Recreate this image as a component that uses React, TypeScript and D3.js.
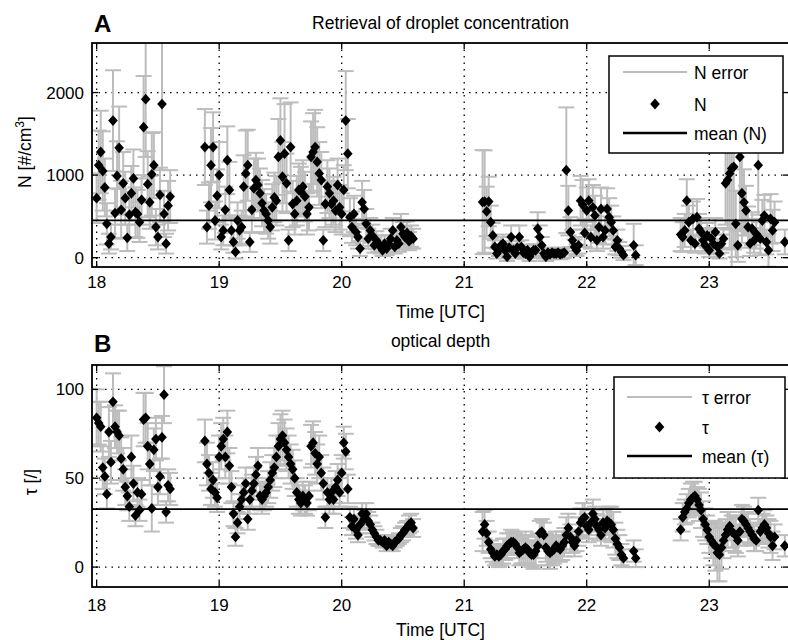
import React from 'react';
import * as d3 from 'd3';

// Time of each retrieval, minutes after 18:00 UTC
const minutes = [
  0,1,2,3,4,5,6,7,8,9,10,11,12,13,14,15,16,17,18,19,20,21,22,23,24,25,26,27,28,29,30,31,32,33,34,35,36,
  53,54,55,56,57,58,59,60,61,62,63,64,65,66,67,68,69,70,71,72,73,74,75,76,77,78,79,80,81,82,
  83,84,85,86,87,88,89,90,91,92,93,94,95,96,97,98,99,100,101,102,103,104,105,106,107,108,109,110,111,112,
  113,114,115,116,117,118,119,120,121,122,123,124,125,126,127,128,129,130,131,132,133,134,135,136,137,138,139,140,141,142,
  143,144,145,146,147,148,149,150,151,152,153,154,155,
  189,190,191,192,193,194,195,196,197,198,199,200,201,202,203,204,205,206,207,208,209,210,211,212,213,214,215,216,217,218,
  219,220,221,222,223,224,225,226,227,228,229,230,231,232,233,234,235,236,237,238,239,240,241,242,243,244,245,246,247,248,
  249,250,251,252,253,254,255,256,257,258,263,264,
  286,287,288,289,290,291,292,293,294,295,296,297,298,299,300,301,302,303,304,305,306,307,308,309,310,311,312,313,314,315,
  316,317,318,319,320,321,322,323,324,325,326,327,328,329,330,331,332,337,
];

// Droplet concentration N [#/cm3]
const nValues = [
  720,1120,1280,1050,850,410,170,250,1660,540,
  990,1330,580,900,720,240,520,780,960,550,
  530,430,700,1580,1920,890,670,1010,1120,370,
  250,760,1860,530,170,630,740,
  1340,370,630,1120,1340,450,750,1000,250,330,
  580,1180,820,330,190,70,450,330,370,860,
  1020,1120,190,580,840,940,880,780,660,570,
  530,450,370,610,730,690,1220,1420,980,1260,
  900,210,1340,650,530,690,820,800,860,740,
  530,610,1220,1280,1340,1160,1020,940,210,650,
  860,780,650,690,570,880,610,530,820,1660,
  1260,490,370,530,310,250,110,670,590,410,
  230,330,270,150,210,170,130,90,170,110,
  170,230,330,130,210,170,370,290,250,300,
  200,260,230,
  673,680,560,680,430,270,130,50,90,150,
  170,90,10,120,250,90,50,120,250,130,
  60,50,90,10,60,90,90,350,250,150,
  50,10,60,40,60,50,50,60,40,50,
  60,1060,570,310,210,130,90,150,690,640,
  300,570,690,250,610,510,210,370,590,250,
  330,590,490,430,330,130,210,110,70,30,
  150,30,
  280,250,330,690,430,210,470,170,490,350,
  310,210,150,270,90,230,170,310,130,50,
  170,230,900,940,1020,1080,1100,410,150,1220,
  780,670,570,370,170,350,210,290,1120,230,
  450,510,190,90,470,330,430,
  190,
];

const nErrors = [
  300,420,500,480,350,250,120,150,610,300,
  420,500,350,380,320,160,280,330,350,300,
  290,240,300,620,700,400,320,500,400,220,
  150,330,800,280,120,300,320,
  460,200,280,450,420,230,320,400,150,180,
  280,410,340,180,130,80,220,180,200,380,
  520,430,120,280,360,330,320,300,280,260,
  240,220,200,280,300,300,460,510,420,600,
  360,130,540,280,250,300,320,300,320,300,
  250,280,430,470,450,420,380,340,130,280,
  320,300,280,290,260,320,270,250,300,600,
  420,230,190,220,160,140,90,260,230,180,
  120,150,130,90,110,100,80,70,100,80,
  100,120,150,80,110,100,160,140,130,140,
  110,130,120,
  630,620,300,300,200,150,80,60,70,100,
  110,70,50,80,140,70,60,80,140,80,
  60,60,70,50,60,70,70,200,140,100,
  60,50,60,60,60,60,60,60,60,60,
  60,760,300,180,130,90,70,100,300,300,
  170,280,260,140,270,240,130,190,260,140,
  170,250,230,200,170,90,130,80,70,60,
  260,120,
  200,180,200,260,200,130,210,110,220,180,
  170,130,100,150,80,130,110,170,90,60,
  110,130,500,600,900,1200,1000,400,200,900,
  600,400,300,250,150,200,150,180,600,200,
  250,250,150,200,300,250,250,
  150,
];

// Optical depth tau
const tauValues = [
  84,81,79,56,51,41,76,59,93,79,
  76,74,61,55,45,40,34,62,47,29,
  42,32,41,83,84,68,58,33,66,72,
  45,51,73,97,31,46,44,
  71,58,53,44,49,42,39,62,68,72,
  62,76,57,45,30,17,25,34,38,42,
  47,27,38,43,47,52,57,40,38,40,
  42,45,49,53,56,62,68,72,74,70,
  66,62,58,55,50,42,38,36,40,38,
  36,40,68,70,64,58,62,53,47,28,
  42,38,42,38,45,49,42,53,70,65,
  44,28,23,27,21,18,24,30,27,30,
  26,24,21,19,17,15,15,14,15,12,
  14,13,12,14,15,16,18,19,21,22,
  24,25,22,
  20,24,19,14,10,8,6,7,6,7,
  9,10,12,13,14,14,13,11,8,9,
  10,11,10,8,7,7,9,12,19,20,
  18,11,9,8,9,10,12,11,10,12,
  14,18,22,17,14,12,15,20,25,27,
  28,23,21,25,30,27,23,21,18,25,
  22,26,25,24,21,16,13,11,7,5,
  9,5,
  21,28,31,33,36,38,39,40,38,35,
  32,27,24,21,17,15,13,12,8,7,
  11,15,18,21,23,20,19,18,15,20,
  27,26,24,22,20,18,16,15,32,20,
  22,24,22,19,17,12,17,
  12,
];

const tauErrors = [
  16,12,14,12,10,8,14,12,16,12,
  12,14,12,12,10,8,8,12,10,6,
  8,6,8,15,14,13,12,13,12,12,
  10,10,12,16,6,9,9,
  12,12,10,9,10,8,8,12,13,12,
  12,12,10,9,7,5,6,7,8,8,
  9,6,8,9,9,10,10,8,8,8,
  8,9,10,10,11,12,13,14,14,13,
  12,12,11,11,10,8,8,7,8,8,
  7,8,12,12,12,11,12,10,9,6,
  8,8,8,8,9,9,8,10,9,10,
  8,6,5,6,5,4,5,6,5,6,
  5,5,4,4,4,3,3,3,3,3,
  3,3,3,3,3,3,4,4,4,4,
  5,5,5,
  11,8,7,6,5,5,5,5,6,6,
  7,6,7,6,7,6,6,6,7,7,
  8,9,8,7,7,8,8,7,7,7,
  7,8,8,9,8,8,8,7,7,8,
  8,10,8,7,6,6,6,8,8,9,
  8,7,7,7,8,7,7,6,6,7,
  7,7,9,10,10,9,8,7,6,5,
  6,5,
  6,8,7,8,8,9,9,8,7,9,
  10,10,9,8,9,10,12,14,16,15,
  12,10,9,10,8,9,10,10,9,8,
  8,8,7,8,7,6,7,6,7,7,
  8,8,7,8,9,8,7,
  6,
];

const meanN = 452;
const meanTau = 32.6;

const xTicks = [18, 19, 20, 21, 22, 23];
const nTicks = [0, 1000, 2000];
const tauTicks = [0, 50, 100];

const FONT = '"Liberation Sans", Arial, Helvetica, sans-serif';
const GREY = '#bdbdbd';

const xLeft = 92;
const xRight = 789;
const x = d3.scaleLinear().domain([17.962, 23.651]).range([xLeft, xRight]);
const hours = minutes.map((m) => 18 + m / 60);

const diamond = (cx: number, cy: number) =>
  `M${cx},${cy - 5.4}L${cx + 4.8},${cy}L${cx},${cy + 5.4}L${cx - 4.8},${cy}Z`;

type PanelProps = {
  id: string;
  letter: string;
  title: string;
  top: number;
  bottom: number;
  yDomain: [number, number];
  yTicks: number[];
  values: number[];
  errors: number[];
  mean: number;
  tickBaseline: number;
  xLabelBaseline: number;
  titleBaseline: number;
  letterBaseline: number;
  yLabel: React.ReactNode;
  legend: { x: number; y: number; w: number; h: number; lineX0: number; lineX1: number; textX: number; rows: number[]; names: string[] };
};

function Panel(p: PanelProps) {
  const y = d3.scaleLinear().domain(p.yDomain).range([p.bottom, p.top]);
  const n = Math.min(hours.length, p.values.length, p.errors.length);
  const idx = d3.range(n);
  const cap = 8;
  const mid = (xLeft + xRight) / 2;
  const L = p.legend;
  return (
    <g>
      <defs>
        <clipPath id={`clip${p.id}`}>
          <rect x={xLeft} y={p.top} width={xRight - xLeft} height={p.bottom - p.top} />
        </clipPath>
      </defs>
      <rect x={xLeft} y={p.top} width={xRight - xLeft} height={p.bottom - p.top} fill="#fff" />
      {/* grid */}
      {xTicks.map((t) => (
        <line key={`gx${t}`} x1={x(t)} x2={x(t)} y1={p.top} y2={p.bottom} stroke="#000" strokeWidth={1.3} strokeDasharray="1.5 5" />
      ))}
      {p.yTicks.map((t) => (
        <line key={`gy${t}`} x1={xLeft} x2={xRight} y1={y(t)} y2={y(t)} stroke="#000" strokeWidth={1.3} strokeDasharray="1.5 5" />
      ))}
      <g clipPath={`url(#clip${p.id})`}>
        {idx.map((i) => {
          const cx = x(hours[i]);
          const lo = y(p.values[i] - p.errors[i]);
          const hi = y(p.values[i] + p.errors[i]);
          return (
            <g key={`e${i}`} stroke={GREY} strokeWidth={2}>
              <line x1={cx} x2={cx} y1={lo} y2={hi} />
              <line x1={cx - cap} x2={cx + cap} y1={lo} y2={lo} />
              <line x1={cx - cap} x2={cx + cap} y1={hi} y2={hi} />
            </g>
          );
        })}
        {idx.map((i) => (
          <path key={`m${i}`} d={diamond(x(hours[i]), y(p.values[i]))} fill="#000" />
        ))}
        <line x1={xLeft} x2={xRight} y1={y(p.mean)} y2={y(p.mean)} stroke="#000" strokeWidth={1.8} />
      </g>
      {/* ticks */}
      {xTicks.map((t) => (
        <g key={`tx${t}`} stroke="#000" strokeWidth={1.3}>
          <line x1={x(t)} x2={x(t)} y1={p.bottom} y2={p.bottom - 6} />
          <line x1={x(t)} x2={x(t)} y1={p.top} y2={p.top + 6} />
        </g>
      ))}
      {p.yTicks.map((t) => (
        <g key={`ty${t}`} stroke="#000" strokeWidth={1.3}>
          <line x1={xLeft} x2={xLeft + 6} y1={y(t)} y2={y(t)} />
          <line x1={xRight} x2={xRight - 6} y1={y(t)} y2={y(t)} />
        </g>
      ))}
      <rect x={xLeft} y={p.top} width={xRight - xLeft} height={p.bottom - p.top} fill="none" stroke="#000" strokeWidth={1.8} />
      {/* tick labels */}
      {xTicks.map((t) => (
        <text key={`lx${t}`} x={x(t)} y={p.tickBaseline} textAnchor="middle" fontFamily={FONT} fontSize={17}>
          {t}
        </text>
      ))}
      {p.yTicks.map((t) => (
        <text key={`ly${t}`} x={84} y={y(t) + 6} textAnchor="end" fontFamily={FONT} fontSize={17}>
          {t}
        </text>
      ))}
      <text x={mid} y={p.xLabelBaseline} textAnchor="middle" fontFamily={FONT} fontSize={17.5}>
        Time [UTC]
      </text>
      <text x={mid} y={p.titleBaseline} textAnchor="middle" fontFamily={FONT} fontSize={17.5}>
        {p.title}
      </text>
      <text x={94} y={p.letterBaseline} fontFamily={FONT} fontSize={24} fontWeight="bold">
        {p.letter}
      </text>
      {p.yLabel}
      {/* legend */}
      <g>
        <rect x={L.x} y={L.y} width={L.w} height={L.h} fill="#fff" stroke="#000" strokeWidth={1.5} />
        <line x1={L.lineX0} x2={L.lineX1} y1={L.rows[0]} y2={L.rows[0]} stroke={GREY} strokeWidth={2} />
        <path d={diamond((L.lineX0 + L.lineX1) / 2, L.rows[1])} fill="#000" />
        <line x1={L.lineX0} x2={L.lineX1} y1={L.rows[2]} y2={L.rows[2]} stroke="#000" strokeWidth={2.6} />
        {L.names.map((nm, i) => (
          <text key={nm} x={L.textX} y={L.rows[i] + 7} fontFamily={FONT} fontSize={17.5}>
            {nm}
          </text>
        ))}
      </g>
    </g>
  );
}

export default function App() {
  return (
    <svg width={788} height={640} style={{ position: 'absolute', left: 0, top: 0, background: '#fff' }}>
      <rect x={0} y={0} width={788} height={640} fill="#fff" />
      <Panel
        id="A"
        letter="A"
        title="Retrieval of droplet concentration"
        top={43}
        bottom={267}
        yDomain={[-113, 2600]}
        yTicks={nTicks}
        values={nValues}
        errors={nErrors}
        mean={meanN}
        tickBaseline={288}
        xLabelBaseline={318}
        titleBaseline={29}
        letterBaseline={32}
        yLabel={
          <text transform="translate(31,152) rotate(-90)" textAnchor="middle" fontFamily={FONT} fontSize={17.5}>
            N [#/cm<tspan dy={-7} fontSize={12}>3</tspan><tspan dy={7}>]</tspan>
          </text>
        }
        legend={{ x: 609, y: 56, w: 174, h: 97, lineX0: 623, lineX1: 687, textX: 694, rows: [72, 104, 133], names: ['N error', 'N', 'mean (N)'] }}
      />
      <Panel
        id="B"
        letter="B"
        title="optical depth"
        top={365}
        bottom={587}
        yDomain={[-11.2, 113.7]}
        yTicks={tauTicks}
        values={tauValues}
        errors={tauErrors}
        mean={meanTau}
        tickBaseline={611}
        xLabelBaseline={636}
        titleBaseline={347}
        letterBaseline={352}
        yLabel={
          <text transform="translate(37,482) rotate(-90)" textAnchor="middle" fontFamily={FONT} fontSize={17.5}>
            τ [/]
          </text>
        }
        legend={{ x: 614, y: 377, w: 171, h: 101, lineX0: 627, lineX1: 692, textX: 702, rows: [397, 427, 456], names: ['τ error', 'τ', 'mean (τ)'] }}
      />
    </svg>
  );
}
